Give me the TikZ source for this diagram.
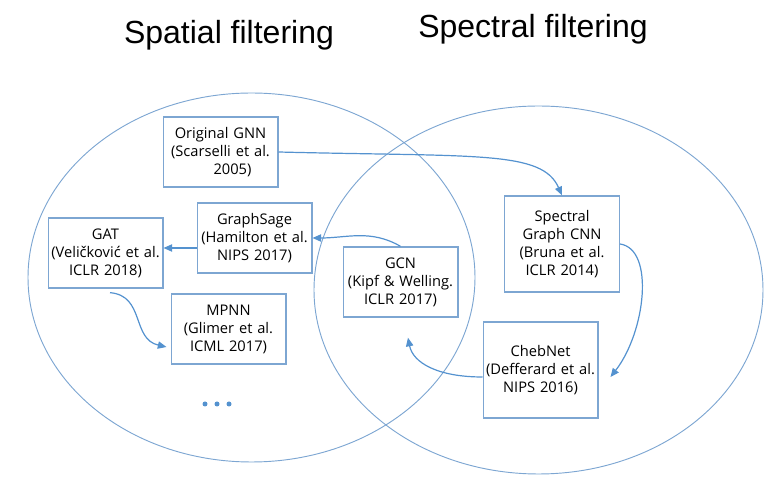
\documentclass[tikz,border=0pt]{standalone}
\usepackage{fontspec}
\setmainfont{Open Sans}
\newfontfamily\titlefont{Liberation Sans}
\usetikzlibrary{arrows.meta}
\definecolor{boxblue}{RGB}{125,166,210}
\definecolor{arrowblue}{RGB}{84,146,207}

\begin{document}
\begin{tikzpicture}[x=0.75pt,y=0.75pt,
    method/.style={draw=boxblue,line width=1pt,text width=84pt,align=center,inner sep=1pt,
        minimum height=52.5pt,font=\fontsize{11}{13.5}\selectfont},
    tall/.style={method,minimum height=72pt},
    link/.style={draw=arrowblue,line width=0.9pt,-{Triangle[length=6.5pt,width=5.5pt]}},
    title/.style={anchor=base,font=\titlefont\fontsize{24}{28}\selectfont}]
    \useasboundingbox (0,0) rectangle (765,489);

    \draw[boxblue,line width=0.7pt](251.5,211.5)ellipse[x radius=223.5,y radius=184.5];
    \draw[boxblue,line width=0.7pt](538.5,199)ellipse[x radius=224.5,y radius=184];

    \node[title](spatial)at(229,445){Spatial filtering};
    \node[title](spectral)at(533,451){Spectral filtering};

    \node[method](ognn)at(220.5,337){Original GNN\\(Scarselli et al.\\\hspace*{18pt}2005)};
    \node[method](sage)at(254.5,251){GraphSage\\(Hamilton et al.\\NIPS 2017)};
    \node[method](gat)at(105.5,236){GAT\\(Veličković et al.\\ICLR 2018)};
    \node[method](mpnn)at(228.5,160){MPNN\\(Glimer et al.\\ICML 2017)};
    \node[method](gcn)at(400.5,207){GCN\\(Kipf \& Welling.\\ICLR 2017)};
    \node[tall](sgcnn)at(562,245){Spectral\\Graph CNN\\(Bruna et al.\\ICLR 2014)};
    \node[tall](cheb)at(540.5,119){ChebNet\\(Defferard et al.\\NIPS 2016)};

    \draw[link](ognn.east)..controls +(200,-5) and +(-20,45)..(sgcnn.north);
    \draw[link](gcn.north)to[out=150,in=0](sage.east);
    \draw[link]([yshift=-7.5pt]sage.west)--([yshift=3.75pt]gat.east);
    \draw[link]([xshift=3.4pt,yshift=-3pt]gat.south)..controls +(35,-3) and +(-35,8)..([xshift=-3pt,yshift=-13.5pt]mpnn.west);
    \draw[link](sgcnn.east)..controls +(35,-5) and +(35,45)..([xshift=9pt,yshift=-5.25pt]cheb.east);
    \draw[link]([yshift=-5.25pt]cheb.west)..controls +(-45,0) and +(5,-25)..([xshift=5.6pt,yshift=-15pt]gcn.south);

    \foreach \x in {205,217,229}
        \fill[arrowblue](\x,85)circle(2.5);
\end{tikzpicture}
\end{document}
